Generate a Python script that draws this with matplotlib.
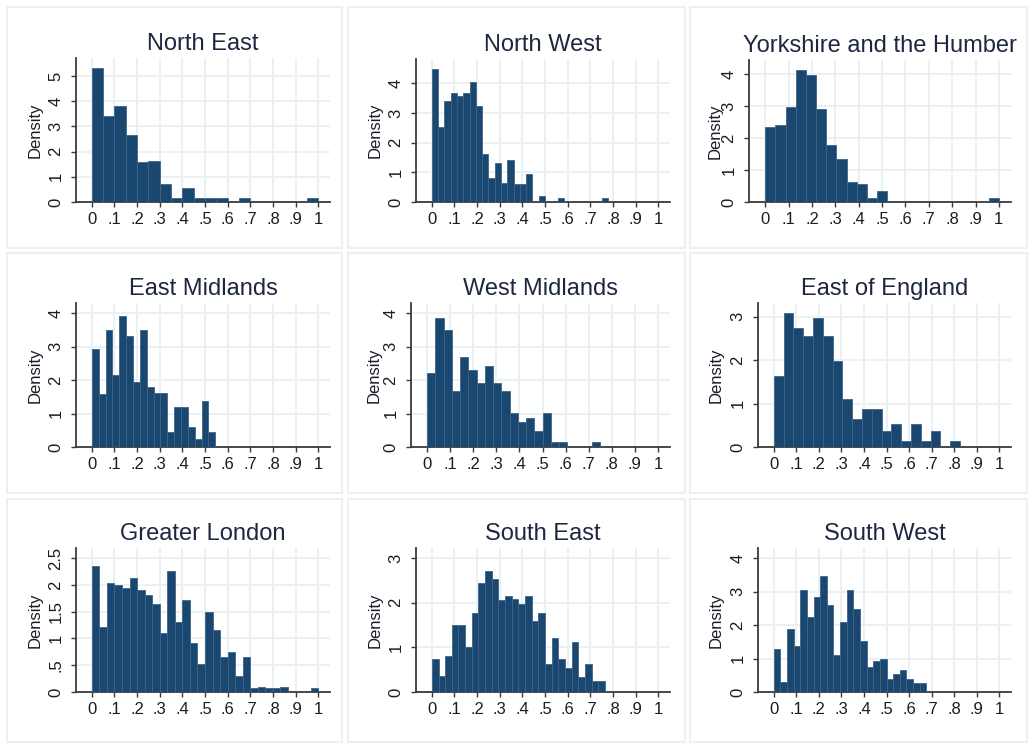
import numpy as np
import matplotlib
matplotlib.use("Agg")
import matplotlib.pyplot as plt
from matplotlib.patches import Rectangle

plt.rcParams['font.family'] = ['Liberation Sans', 'DejaVu Sans']

# ---------------- data ----------------
regions = ["North East", "North West", "Yorkshire and the Humber",
           "East Midlands", "West Midlands", "East of England",
           "Greater London", "South East", "South West"]

# number of equal-width bins on [0, 1] per region
n_bins = [20, 36, 23, 33, 28, 23, 30, 34, 34]

ne = [5.32, 3.42, 3.82, 2.67, 1.58, 1.64, 0.70, 0.16, 0.57, 0.15,
      0.15, 0.15, 0.0, 0.15, 0.0, 0.0, 0.0, 0.0, 0.0, 0.15]
nw = [4.48, 2.53, 3.40, 3.68, 3.57, 3.67, 4.03, 3.22, 1.63, 0.81,
      1.30, 0.64, 1.40, 0.60, 0.60, 0.94, 0.0, 0.20, 0.0, 0.0,
      0.13, 0.0, 0.0, 0.0, 0.0, 0.0, 0.0, 0.13]
yh = [2.34, 2.40, 2.97, 4.14, 3.97, 2.92, 1.78, 1.35, 0.62, 0.57,
      0.12, 0.35, 0.0, 0.0, 0.0, 0.0, 0.0, 0.0, 0.0, 0.0,
      0.0, 0.0, 0.12]
em = [2.93, 1.59, 3.50, 2.16, 3.90, 3.30, 1.94, 3.50, 1.80, 1.60,
      1.60, 0.46, 1.19, 1.19, 0.61, 0.25, 1.38, 0.46]
wm = [2.20, 3.86, 3.50, 1.68, 2.68, 2.31, 1.92, 2.43, 1.92, 1.68,
      1.02, 0.76, 0.86, 0.49, 1.02, 0.15, 0.15, 0.0, 0.0, 0.0, 0.15]
ee = [1.63, 3.08, 2.73, 2.56, 2.96, 2.56, 1.97, 1.11, 0.64, 0.88,
      0.88, 0.37, 0.54, 0.13, 0.54, 0.13, 0.37, 0.0, 0.145]
gl = [2.35, 1.21, 2.04, 2.00, 1.94, 2.13, 1.91, 1.81, 1.64, 1.10,
      2.26, 1.30, 1.72, 0.91, 0.53, 1.49, 1.16, 0.66, 0.75, 0.30,
      0.66, 0.08, 0.10, 0.08, 0.08, 0.10, 0.0, 0.0, 0.0, 0.08]
se = [0.74, 0.35, 0.81, 1.50, 1.50, 1.00, 1.78, 2.45, 2.72, 2.53,
      2.06, 2.16, 2.08, 1.97, 2.16, 1.58, 1.78, 0.62, 1.20, 0.74,
      0.54, 1.13, 0.34, 0.62, 0.24, 0.24]
sw = [1.28, 0.30, 1.88, 1.36, 3.05, 2.23, 2.85, 3.46, 2.60, 1.10,
      2.08, 3.05, 2.48, 1.53, 0.75, 0.93, 1.00, 0.38, 0.53, 0.65,
      0.38, 0.28, 0.28]
densities = [ne, nw, yh, em, wm, ee, gl, se, sw]

x_ticks = [0, 0.1, 0.2, 0.3, 0.4, 0.5, 0.6, 0.7, 0.8, 0.9, 1.0]
x_ticklabels = ["0", ".1", ".2", ".3", ".4", ".5", ".6", ".7", ".8", ".9", "1"]

y_ticks = [[0, 1, 2, 3, 4, 5], [0, 1, 2, 3, 4], [0, 1, 2, 3, 4],
           [0, 1, 2, 3, 4], [0, 1, 2, 3, 4], [0, 1, 2, 3],
           [0, 0.5, 1, 1.5, 2, 2.5], [0, 1, 2, 3], [0, 1, 2, 3, 4]]
y_ticklabels = [["0", "1", "2", "3", "4", "5"], ["0", "1", "2", "3", "4"],
                ["0", "1", "2", "3", "4"], ["0", "1", "2", "3", "4"],
                ["0", "1", "2", "3", "4"], ["0", "1", "2", "3"],
                ["0", ".5", "1", "1.5", "2", "2.5"], ["0", "1", "2", "3"],
                ["0", "1", "2", "3", "4"]]

# ---------------- layout (pixels) ----------------
W, H = 1030, 746
fig = plt.figure(figsize=(W / 100, H / 100), dpi=100)
fig.patch.set_facecolor("white")

# axes boxes: left, right, top, bottom
boxes = [(76, 330, 58, 202), (416, 670, 59, 202), (749, 1011, 60, 202),
         (76, 330, 303, 447), (411, 670, 303, 447), (758, 1011, 303, 447),
         (76, 330, 548, 692), (416, 670, 548, 692), (758, 1011, 548, 692)]
label_x = [35, 375, 715, 35, 374, 716, 35, 375, 716]

# cell frames
cells_x = [(7, 342), (348, 685), (690, 1027)]
cells_y = [(7, 248), (253, 493), (499, 742)]
for (cy0, cy1) in cells_y:
    for (cx0, cx1) in cells_x:
        fig.patches.append(Rectangle((cx0 / W, 1 - cy1 / H), (cx1 - cx0) / W,
                                     (cy1 - cy0) / H, transform=fig.transFigure,
                                     fill=False, edgecolor="#ebf0f2", lw=1.5))

bar_color = "#1a476f"
grid_color = "#eaf1f3"
axis_color = "#3a3a3a"
text_color = "#1b1b28"

for i in range(9):
    l, r, t, b = boxes[i]
    ax = fig.add_axes([l / W, 1 - b / H, (r - l) / W, (b - t) / H])
    h = np.array(densities[i])
    w = 1.0 / n_bins[i]
    edges = np.arange(len(h)) * w
    ax.bar(edges, h, width=w, align="edge", color=bar_color,
           edgecolor="#3d6488", linewidth=0.6, zorder=3)
    ax.set_xlim(-0.07, 1.052)
    top = max(h.max(), max(y_ticks[i])) * 1.075
    ax.set_ylim(0, top)
    ax.set_xticks(x_ticks)
    ax.set_xticklabels(x_ticklabels)
    ax.set_yticks(y_ticks[i])
    ax.set_yticklabels(y_ticklabels[i])
    ax.grid(True, color=grid_color, lw=1.4, zorder=0)
    ax.set_axisbelow(True)
    for s in ["top", "right"]:
        ax.spines[s].set_visible(False)
    for s in ["left", "bottom"]:
        ax.spines[s].set_color(axis_color)
        ax.spines[s].set_linewidth(1.3)
    ax.tick_params(axis="both", direction="out", length=3.5, width=1.0,
                   color=axis_color, labelsize=12, labelcolor=text_color)
    ax.tick_params(axis="x", pad=4)
    ax.tick_params(axis="y", labelrotation=90, pad=5.5)
    for lab in ax.get_yticklabels():
        lab.set_va("center")
    ax.set_title(regions[i], fontsize=17, color="#1e2740", pad=6)
    ax.set_ylabel("Density", fontsize=12, color=text_color)
    ax.yaxis.label.set_va("center")
    ax.yaxis.set_label_coords((label_x[i] - l) / (r - l), 0.5)

fig.savefig("out.png", dpi=100, facecolor="white")
